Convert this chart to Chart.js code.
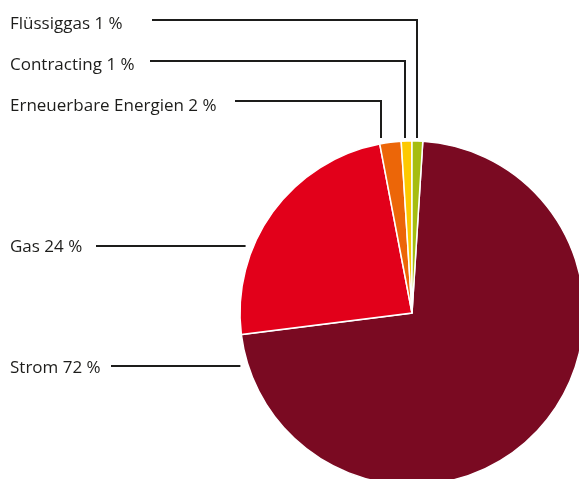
<!DOCTYPE html>
<html>
<head>
<meta charset="utf-8">
<script src="https://cdn.jsdelivr.net/npm/chart.js@4/dist/chart.umd.min.js"></script>
<style>
  html, body { margin: 0; padding: 0; overflow: hidden; background: #ffffff; }
  #wrap { position: absolute; left: 0; top: 0; width: 600px; height: 500px; }
</style>
</head>
<body>
<div id="wrap"><canvas id="pie" width="600" height="500"></canvas></div>
<script>
// Energy mix shares (percent)
const categories = ['Strom', 'Gas', 'Erneuerbare Energien', 'Contracting', 'Flüssiggas'];
const shares = [72, 24, 2, 1, 1];
const sliceColors = ['#7a0a22', '#e2001a', '#ec6608', '#fdc900', '#a6bd10'];

// Callout layout per category: text baseline, leader row and where the leader starts.
// 'top' callouts drop vertically onto their slice, 'left' ones run straight to the rim.
const calloutLayout = {
  'Flüssiggas':           { side: 'top',  textY: 29,  lineY: 20,  lineX0: 152, frac: 0.5 },
  'Contracting':          { side: 'top',  textY: 70,  lineY: 61,  lineX0: 150, frac: 0.35 },
  'Erneuerbare Energien': { side: 'top',  textY: 111, lineY: 101, lineX0: 235, frac: 0.04 },
  'Gas':                  { side: 'left', textY: 252, lineY: 246, lineX0: 96 },
  'Strom':                { side: 'left', textY: 373, lineY: 366, lineX0: 111 }
};

const calloutPlugin = {
  id: 'callouts',
  afterDatasetsDraw(chart) {
    const ctx = chart.ctx;
    const meta = chart.getDatasetMeta(0);
    const ink = '#1d1d1b';
    ctx.save();
    ctx.font = '17px "Open Sans", Lato, sans-serif';
    ctx.fillStyle = ink;
    ctx.strokeStyle = ink;
    ctx.lineWidth = 2;
    ctx.textAlign = 'left';
    ctx.textBaseline = 'alphabetic';
    meta.data.forEach((arc, i) => {
      const name = categories[i];
      const lay = calloutLayout[name];
      if (!lay) return;
      const p = arc.getProps(['x', 'y', 'startAngle', 'endAngle', 'outerRadius'], true);
      ctx.fillText(name + ' ' + shares[i] + ' %', 10, lay.textY);
      ctx.beginPath();
      if (lay.side === 'top') {
        const a = p.startAngle + (p.endAngle - p.startAngle) * lay.frac;
        const vx = Math.round(p.x + p.outerRadius * Math.cos(a));
        const bottom = p.y - p.outerRadius - 3;
        ctx.moveTo(lay.lineX0, lay.lineY);
        ctx.lineTo(vx, lay.lineY);
        ctx.lineTo(vx, bottom);
      } else {
        const dy = lay.lineY - p.y;
        const rimX = p.x - Math.sqrt(p.outerRadius * p.outerRadius - dy * dy);
        ctx.moveTo(lay.lineX0, lay.lineY);
        ctx.lineTo(rimX - 8, lay.lineY);
      }
      ctx.stroke();
    });
    ctx.restore();
  }
};

new Chart(document.getElementById('pie'), {
  type: 'pie',
  data: {
    labels: categories,
    datasets: [{
      data: shares,
      backgroundColor: sliceColors,
      borderColor: '#ffffff',
      borderWidth: 1.5,
      borderJoinStyle: 'miter'
    }]
  },
  options: {
    responsive: false,
    animation: false,
    rotation: 3.6,
    radius: 172,
    layout: { padding: { left: 240, top: 141, right: 16, bottom: 15 } },
    plugins: {
      legend: { display: false },
      tooltip: { enabled: false }
    }
  },
  plugins: [calloutPlugin]
});
</script>
</body>
</html>
